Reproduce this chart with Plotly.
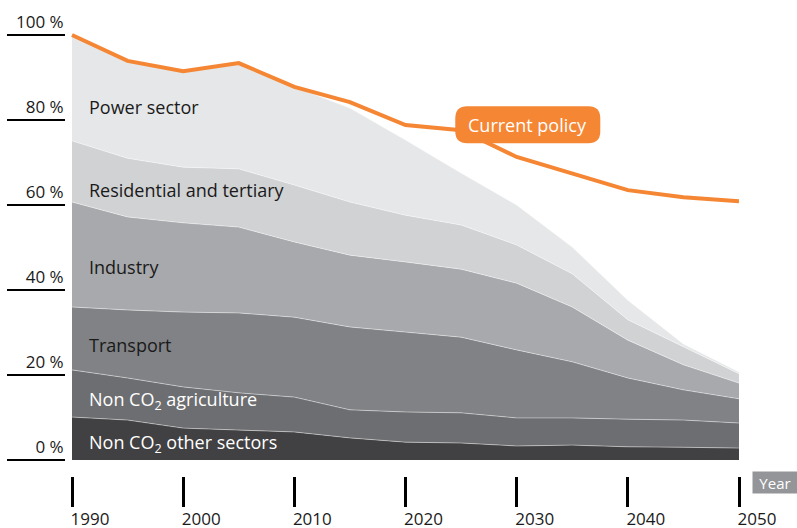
import plotly.graph_objects as go

years = [1990, 1995, 2000, 2005, 2010, 2015, 2020, 2025, 2030, 2035, 2040, 2045, 2050]

# Share of 1990 emissions (%), stacked from bottom to top
non_co2_other = [10.1, 9.4, 7.5, 7.0, 6.6, 5.2, 4.2, 4.0, 3.3, 3.5, 3.1, 3.0, 2.8]
non_co2_agri = [11.1, 9.9, 9.7, 8.8, 8.2, 6.6, 7.1, 7.1, 6.6, 6.4, 6.5, 6.4, 5.9]
transport = [14.8, 16.0, 17.6, 18.8, 18.8, 19.5, 18.8, 17.8, 16.0, 13.2, 9.7, 7.1, 5.7]
industry = [24.7, 21.9, 21.0, 20.2, 17.7, 16.9, 16.5, 16.0, 15.7, 12.9, 8.9, 5.9, 3.7]
residential = [14.4, 13.8, 13.1, 13.7, 13.4, 12.5, 11.0, 10.4, 9.0, 7.8, 4.8, 4.2, 2.2]
power = [24.9, 22.9, 22.6, 24.9, 23.1, 22.1, 17.7, 12.2, 9.4, 6.3, 4.6, 0.7, 0.4]

current_policy = [100, 93.9, 91.5, 93.4, 87.8, 84.2, 78.8, 77.6, 71.3, 67.5, 63.5, 61.8, 60.9]

series_names = ["Non CO2 other sectors", "Non CO2 agriculture", "Transport",
                "Industry", "Residential and tertiary", "Power sector"]
series_values = [non_co2_other, non_co2_agri, transport, industry, residential, power]
series_colors = ["#414042", "#6d6e71", "#808285", "#a7a9ac", "#d1d2d4", "#e6e7e8"]

label_texts = ["Non CO<sub>2</sub> other sectors", "Non CO<sub>2</sub> agriculture", "Transport",
               "Industry", "Residential and tertiary", "Power sector"]
label_y = [4.0, 14.1, 27.0, 45.4, 63.5, 83.0]
label_colors = ["white", "white", "#1a1a1a", "#1a1a1a", "#1a1a1a", "#1a1a1a"]

y_ticks = [0, 20, 40, 60, 80, 100]
y_tick_text = ["0 %", "20 %", "40 %", "60 %", "80 %", "100 %"]
x_ticks = [1990, 2000, 2010, 2020, 2030, 2040, 2050]

ORANGE = "#f58634"
FONT = "Open Sans"

fig = go.Figure()

for name, vals, col in zip(series_names, series_values, series_colors):
    fig.add_trace(go.Scatter(
        x=years, y=vals, name=name, mode="lines", stackgroup="one",
        line=dict(width=0.8, color="rgba(255,255,255,0.55)"),
        fillcolor=col, hoverinfo="x+y+name",
    ))

fig.add_trace(go.Scatter(
    x=years, y=current_policy, name="Current policy", mode="lines",
    line=dict(color=ORANGE, width=4), cliponaxis=False,
))

annotations = []
for txt, yv, col in zip(label_texts, label_y, label_colors):
    annotations.append(dict(
        x=1991.35, y=yv, xref="x", yref="y", text=txt, showarrow=False,
        xanchor="left", yanchor="middle",
        font=dict(family=FONT, size=18, color=col),
    ))

# Current policy label
annotations.append(dict(
    x=2031.0, y=78.9, xref="x", yref="y", text="Current policy", showarrow=False,
    xanchor="center", yanchor="middle",
    font=dict(family=FONT, size=18, color="white"),
))

# Year label
annotations.append(dict(
    x=1.0535, y=-0.0146, xref="paper", yref="paper", text="Year", showarrow=False,
    xanchor="center", yanchor="middle", width=44, height=21, bgcolor="#939598",
    borderpad=0, font=dict(family=FONT, size=15, color="white"),
))

# Rounded box behind "Current policy"
hw, hh, r = 72.5, 18.5, 12
box_path = (f"M {-hw + r},{-hh} L {hw - r},{-hh} Q {hw},{-hh} {hw},{-hh + r} "
            f"L {hw},{hh - r} Q {hw},{hh} {hw - r},{hh} L {-hw + r},{hh} "
            f"Q {-hw},{hh} {-hw},{hh - r} L {-hw},{-hh + r} Q {-hw},{-hh} {-hw + r},{-hh} Z")
shapes = [dict(
    type="path", xref="x", yref="y", xsizemode="pixel", ysizemode="pixel",
    xanchor=2031.0, yanchor=78.9, path=box_path,
    fillcolor=ORANGE, line=dict(width=0), layer="above",
)]

fig.update_layout(
    width=797, height=528,
    margin=dict(l=66, r=58, t=31, b=52, autoexpand=False),
    paper_bgcolor="white", plot_bgcolor="white",
    showlegend=False,
    font=dict(family=FONT, size=17, color="#1a1a1a"),
    annotations=annotations, shapes=shapes,
    xaxis=dict(
        range=[1989.46, 2050], tickvals=x_ticks, ticks="outside", ticklen=30,
        tickwidth=3, tickcolor="black", showgrid=False, zeroline=False,
        showline=False, ticklabelshift=18, ticklabelstandoff=-2, automargin=False,
        tickfont=dict(family=FONT, size=17, color="#1a1a1a"),
    ),
    yaxis=dict(
        range=[-3.765, 100.94], tickvals=y_ticks, ticktext=y_tick_text,
        ticks="outside", ticklen=58, tickwidth=2, tickcolor="black",
        showgrid=False, zeroline=False, showline=False, automargin=False,
        ticklabelstandoff=-60, ticklabelshift=-13,
        tickfont=dict(family=FONT, size=17, color="#1a1a1a"),
    ),
)

fig.write_html(
    "out.html",
    config={"displayModeBar": False},
    post_script="document.body.style.margin='0';document.body.style.overflow='hidden';",
)
